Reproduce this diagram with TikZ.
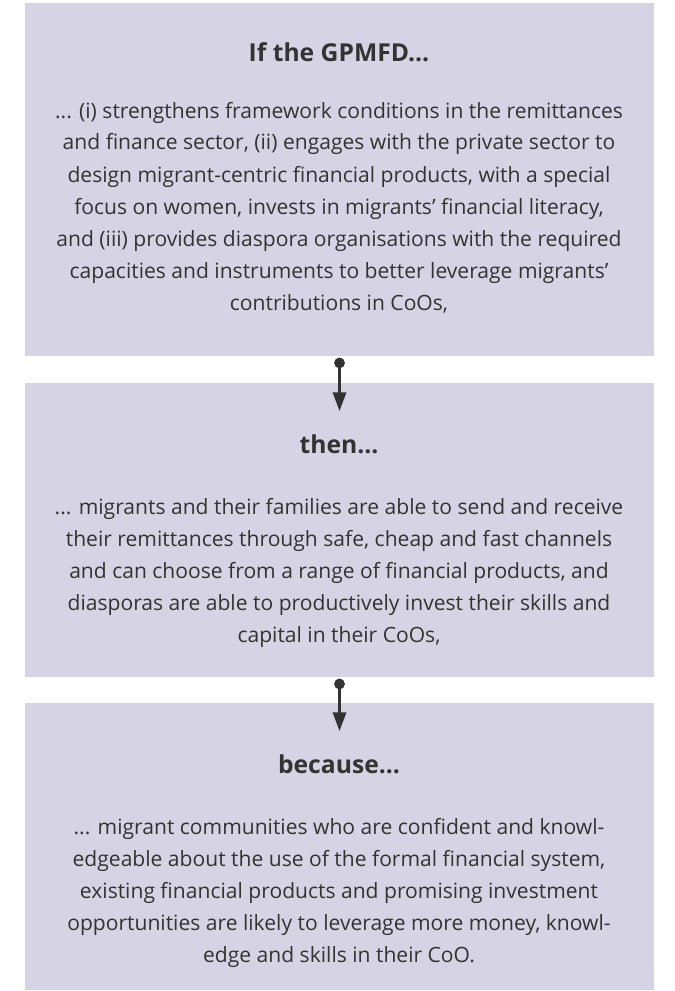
\documentclass[tikz,border=0pt]{standalone}
\usepackage{fontspec}
\setmainfont{Open Sans}
\usetikzlibrary{arrows.meta,positioning}
\definecolor{boxfill}{HTML}{D6D4E4}
\definecolor{txtgray}{HTML}{333333}
\tikzset{
  stagebox/.style={fill=boxfill, draw=none, inner sep=0pt, minimum width=471.75pt, anchor=north},
  headtext/.style={text=txtgray, font=\fontsize{18.5}{24}\selectfont\bfseries, inner sep=0pt, anchor=base},
  bodytext/.style={text=txtgray, font=\fontsize{15.8}{24}\selectfont, align=center, inner sep=0pt, anchor=base},
  link/.style={line width=1.6pt, txtgray, {Circle[length=8pt]}-{Triangle[length=14pt,width=10pt]}}
}
\begin{document}
\begin{tikzpicture}[x=0.75pt,y=-0.75pt]
  \useasboundingbox (0,0) rectangle (674,991);
  % the three stages
  \node[stagebox, minimum height=264.75pt] (ifbox) at (339.5,3) {};
  \node[stagebox, minimum height=220.5pt] (thenbox) at (339.5,383) {};
  \node[stagebox, minimum height=215.25pt] (becausebox) at (339.5,703) {};
  % texts (placed by the baseline of their last line)
  \node[headtext] (ifhead) at (339,62) {If the GPMFD...};
  \node[bodytext] (ifbody) at (339,310) {... (i) strengthens framework conditions in the remittances\\
    and finance sector, (ii) engages with the private sector to\\
    design migrant-centric financial products, with a special\\
    focus on women, invests in migrants’ financial literacy,\\
    and (iii) provides diaspora organisations with the required\\
    capacities and instruments to better leverage migrants’\\
    contributions in CoOs,};
  \node[headtext] (thenhead) at (339,453) {then...};
  \node[bodytext] (thenbody) at (339,642) {... migrants and their families are able to send and receive\\
    their remittances through safe, cheap and fast channels\\
    and can choose from a range of financial products, and\\
    diasporas are able to productively invest their skills and\\
    capital in their CoOs,};
  \node[headtext] (becausehead) at (339,773) {because...};
  \node[bodytext] (becausebody) at (339,962) {... migrant communities who are confident and knowl-\\
    edgeable about the use of the formal financial system,\\
    existing financial products and promising investment\\
    opportunities are likely to leverage more money, knowl-\\
    edge and skills in their CoO.};
  % arrows
  \draw[link] ([yshift=-0.8pt]ifbox.south) -- ([yshift=-21pt]thenbox.north);
  \draw[link] ([yshift=-0.8pt]thenbox.south) -- ([yshift=-21pt]becausebox.north);
\end{tikzpicture}
\end{document}
